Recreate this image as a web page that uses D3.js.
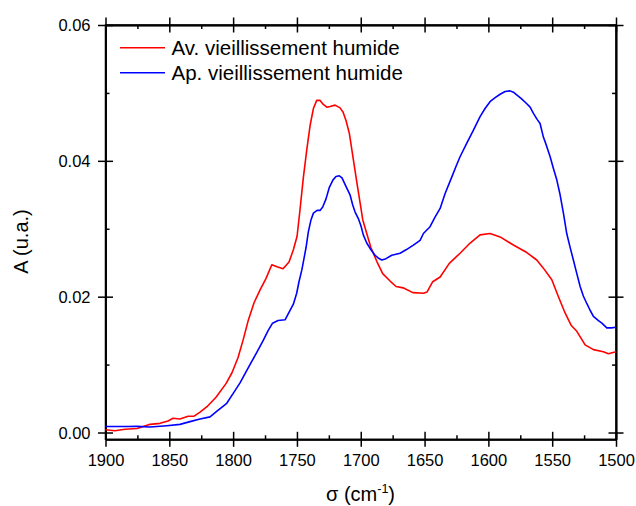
<!DOCTYPE html>
<html>
<head>
<meta charset="utf-8">
<script src="https://cdn.jsdelivr.net/npm/d3@7"></script>
<style>
  html, body { margin: 0; padding: 0; background: #fff; }
  svg { display: block; }
  text { font-family: "Liberation Sans", Arial, sans-serif; fill: #000; }
</style>
</head>
<body>
<svg id="chart" width="636" height="506"></svg>
<script>
// ---- data ----
const seriesNames = ["Av. vieillissement humide", "Ap. vieillissement humide"];
const seriesColors = ["#ff0000", "#0000ff"];

const redX = [1900,1892.6,1884.7,1875.3,1865.1,1857.3,1851.0,1847.1,1841.6,1835.3,1830.6,1825.9,1820.5,1813.4,1805.6,1800.9,1796.2,1792.2,1788.3,1783.6,1778.9,1774.2,1769.7,1765.6,1760.9,1756.2,1752.8,1749.9,1747.6,1745.0,1742.3,1739.7,1737.1,1734.5,1731.9,1729.3,1726.6,1724.1,1720.1,1716.2,1713.9,1711.5,1708.9,1706.3,1703.7,1701.1,1698.4,1695.3,1692.0,1687.2,1682.8,1677.0,1672.3,1666.8,1659.2,1650.9,1648.0,1643.6,1637.8,1630.6,1622.2,1614.3,1606.5,1598.7,1590.8,1580.4,1569.9,1562.1,1556.9,1550.3,1545.1,1539.9,1535.2,1530.7,1524.2,1517.7,1509.9,1506.0,1500];
const redY = [0.0004,0.00025,0.00047,0.0006,0.0012,0.00135,0.0017,0.0021,0.0020,0.0024,0.0024,0.0030,0.0038,0.0052,0.0072,0.0088,0.0110,0.0136,0.0164,0.0191,0.0210,0.0227,0.0247,0.0244,0.0241,0.0251,0.0269,0.0289,0.0328,0.0375,0.0416,0.0452,0.0477,0.0489,0.0489,0.0483,0.0479,0.0480,0.0482,0.0478,0.0472,0.0459,0.0440,0.0408,0.0376,0.0345,0.0313,0.0293,0.0272,0.0251,0.0234,0.0223,0.0215,0.0213,0.0206,0.0205,0.0207,0.0222,0.0229,0.0249,0.0264,0.0279,0.0291,0.0293,0.0288,0.0276,0.0265,0.0254,0.0242,0.0225,0.0200,0.0176,0.0158,0.0149,0.0129,0.0122,0.0119,0.0116,0.0119];

const blueX = [1900,1883.4,1875.3,1865.1,1852.0,1841.6,1833.8,1825.9,1818.1,1812.9,1805.0,1799.8,1794.6,1786.8,1782.0,1776.3,1772.6,1769.1,1764.8,1759.3,1755.4,1752.8,1750.2,1748.4,1746.2,1745.0,1742.9,1741.1,1739.0,1737.1,1734.2,1731.9,1729.8,1727.2,1724.6,1721.7,1719.4,1716.8,1714.7,1711.5,1708.4,1706.3,1704.5,1701.9,1699.8,1698.0,1695.3,1692.7,1688.8,1686.4,1683.5,1680.2,1675.7,1669.2,1664.5,1658.8,1653.5,1650.9,1645.7,1641.8,1637.8,1633.9,1628.7,1625.3,1622.2,1616.9,1611.8,1606.5,1602.6,1598.7,1594.7,1590.8,1586.9,1583.0,1580.4,1577.8,1574.4,1569.9,1567.3,1564.7,1561.8,1559.5,1556.9,1554.4,1551.6,1549.1,1546.4,1543.8,1541.2,1538.6,1536.0,1533.4,1530.7,1528.1,1525.6,1522.9,1520.3,1517.7,1514.0,1511.1,1507.2,1503.7,1500];
const blueY = [0.00088,0.00088,0.0009,0.0008,0.0010,0.0012,0.0016,0.0020,0.0023,0.0031,0.0043,0.0058,0.0073,0.0100,0.0116,0.0136,0.0150,0.0161,0.0165,0.0166,0.0180,0.0189,0.0205,0.0222,0.0239,0.0251,0.0272,0.0295,0.0313,0.0323,0.0327,0.0327,0.0332,0.0344,0.0361,0.0372,0.0377,0.0378,0.0375,0.0362,0.0350,0.0335,0.0325,0.0315,0.0304,0.0291,0.0279,0.0271,0.0261,0.0257,0.0254,0.0256,0.0261,0.0264,0.0269,0.0276,0.0283,0.0293,0.0303,0.0317,0.0330,0.0352,0.0376,0.0392,0.0406,0.0426,0.0445,0.0465,0.0477,0.0487,0.0493,0.0498,0.0502,0.0503,0.0501,0.0497,0.0492,0.0484,0.0479,0.0470,0.0461,0.0455,0.0435,0.0422,0.0406,0.0389,0.0372,0.0350,0.0323,0.0293,0.0273,0.0254,0.0234,0.0215,0.0201,0.0190,0.0180,0.0171,0.0165,0.0161,0.0154,0.0154,0.0155];

const xTicks = [1900,1850,1800,1750,1700,1650,1600,1550,1500];
const xMinorTicks = [1875,1825,1775,1725,1675,1625,1575,1525];
const yTicks = [0.00,0.02,0.04,0.06];
const yMinorTicks = [0.01,0.03,0.05];
const yTickLabels = ["0.00","0.02","0.04","0.06"];
const xTitle = "σ (cm";
const yTitle = "A (u.a.)";

// ---- layout ----
const L = 105.5, R = 616, T = 25, B = 439.3;
const svg = d3.select("#chart");
const x = d3.scaleLinear().domain([1900, 1500]).range([L, R]);
const y = d3.scaleLinear().domain([-0.001, 0.06]).range([B, T]);

const MAJ = 7.5, MIN = 4;

function styleAxis(g) {
  g.selectAll("path.domain").attr("stroke", "#000").attr("stroke-width", 1.5);
  g.selectAll(".tick line").attr("stroke", "#000").attr("stroke-width", 1.5);
}

// bottom axis
const gb = svg.append("g").attr("transform", `translate(0,${B})`);
gb.call(d3.axisBottom(x).tickValues(xTicks).tickSize(MAJ).tickSizeOuter(0).tickFormat(d3.format("d")));
gb.selectAll(".tick text").attr("y", 26.8).attr("dy", null)
  .attr("font-size", "16.5px").attr("font-family", "Liberation Sans, Arial, sans-serif");
styleAxis(gb);
const gb2 = svg.append("g").attr("transform", `translate(0,${B})`);
gb2.call(d3.axisBottom(x).tickValues(xTicks).tickSize(-MAJ).tickSizeOuter(0).tickFormat(""));
styleAxis(gb2);
const gb3 = svg.append("g").attr("transform", `translate(0,${B})`);
gb3.call(d3.axisBottom(x).tickValues(xMinorTicks).tickSize(-MIN).tickSizeOuter(0).tickFormat(""));
styleAxis(gb3);

// top axis
const gt = svg.append("g").attr("transform", `translate(0,${T})`);
gt.call(d3.axisTop(x).tickValues(xTicks).tickSize(MAJ).tickSizeOuter(0).tickFormat(""));
styleAxis(gt);
const gt2 = svg.append("g").attr("transform", `translate(0,${T})`);
gt2.call(d3.axisTop(x).tickValues(xTicks).tickSize(-MAJ).tickSizeOuter(0).tickFormat(""));
styleAxis(gt2);
const gt3 = svg.append("g").attr("transform", `translate(0,${T})`);
gt3.call(d3.axisTop(x).tickValues(xMinorTicks).tickSize(-MIN).tickSizeOuter(0).tickFormat(""));
styleAxis(gt3);

// left axis
const gl = svg.append("g").attr("transform", `translate(${L},0)`);
gl.call(d3.axisLeft(y).tickValues(yTicks).tickSize(MAJ).tickSizeOuter(0).tickFormat((d, i) => yTickLabels[i]));
gl.selectAll(".tick text").attr("x", -15).attr("dy", "0.36em")
  .attr("font-size", "16.5px").attr("font-family", "Liberation Sans, Arial, sans-serif");
styleAxis(gl);
const gl2 = svg.append("g").attr("transform", `translate(${L},0)`);
gl2.call(d3.axisLeft(y).tickValues(yTicks).tickSize(-MAJ).tickSizeOuter(0).tickFormat(""));
styleAxis(gl2);
const gl3 = svg.append("g").attr("transform", `translate(${L},0)`);
gl3.call(d3.axisLeft(y).tickValues(yMinorTicks).tickSize(-MIN).tickSizeOuter(0).tickFormat(""));
styleAxis(gl3);

// right axis
const gr = svg.append("g").attr("transform", `translate(${R},0)`);
gr.call(d3.axisRight(y).tickValues(yTicks).tickSize(MAJ).tickSizeOuter(0).tickFormat(""));
styleAxis(gr);
const gr2 = svg.append("g").attr("transform", `translate(${R},0)`);
gr2.call(d3.axisRight(y).tickValues(yTicks).tickSize(-MAJ).tickSizeOuter(0).tickFormat(""));
styleAxis(gr2);
const gr3 = svg.append("g").attr("transform", `translate(${R},0)`);
gr3.call(d3.axisRight(y).tickValues(yMinorTicks).tickSize(-MIN).tickSizeOuter(0).tickFormat(""));
styleAxis(gr3);

// full frame
svg.append("rect").attr("x", L).attr("y", T).attr("width", R - L).attr("height", B - T)
  .attr("fill", "none").attr("stroke", "#000").attr("stroke-width", 1.5);

// ---- lines ----
const line = d3.line().x(d => x(d[0])).y(d => y(d[1]));
const series = [d3.zip(redX, redY), d3.zip(blueX, blueY)];
series.forEach((s, i) => {
  svg.append("path").datum(s).attr("d", line)
    .attr("fill", "none").attr("stroke", seriesColors[i])
    .attr("stroke-width", 1.6).attr("stroke-linejoin", "round");
});

// ---- legend ----
const leg = svg.append("g");
seriesNames.forEach((n, i) => {
  const ly = 47.7 + i * 25;
  leg.append("line").attr("x1", 120).attr("x2", 165).attr("y1", ly).attr("y2", ly)
    .attr("stroke", seriesColors[i]).attr("stroke-width", 1.6);
  leg.append("text").attr("x", 171.5).attr("y", ly + 7.2).attr("font-size", "20.5px").text(n);
});

// ---- axis titles ----
const xt = svg.append("text").attr("x", 360.5).attr("y", 501).attr("text-anchor", "middle").attr("font-size", "20px");
xt.append("tspan").text(xTitle);
xt.append("tspan").attr("font-size", "12.5px").attr("dy", -8.5).text("-1");
xt.append("tspan").attr("dy", 8.5).text(")");

svg.append("text").attr("transform", "translate(28.3,241.5) rotate(-90)")
  .attr("text-anchor", "middle").attr("font-size", "20px").text(yTitle);
</script>
</body>
</html>
